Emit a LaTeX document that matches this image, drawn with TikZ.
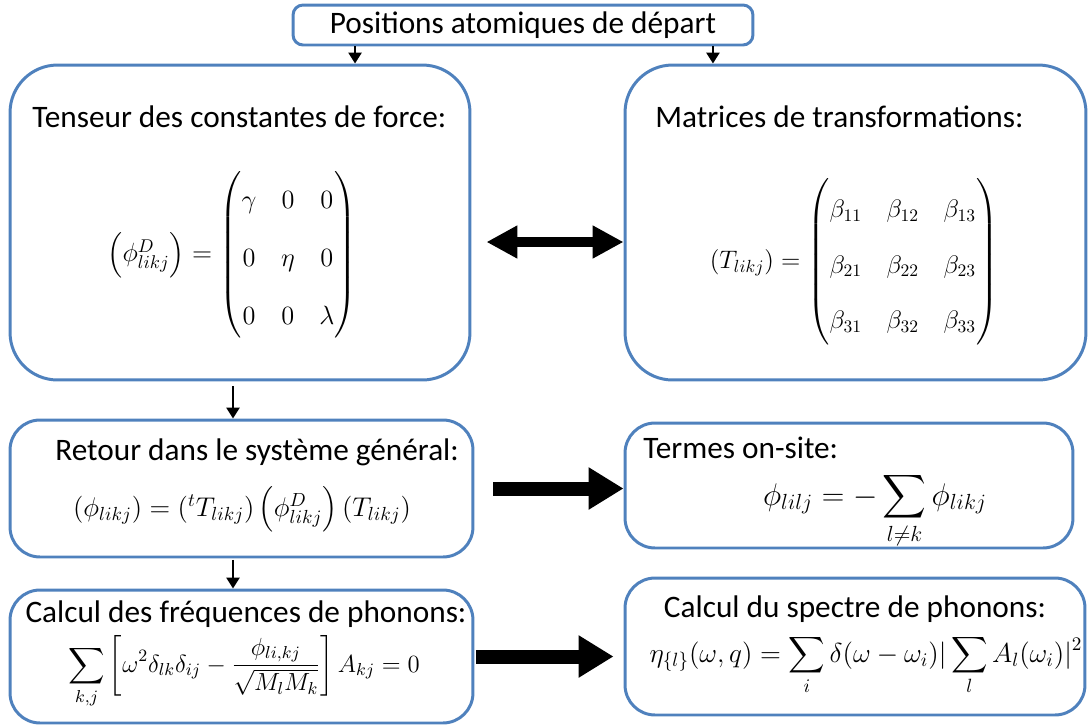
\RequirePackage{fix-cm}
\documentclass[tikz,border=0pt]{standalone}
\usepackage{amsmath}
\usepackage{fontspec}
\setmainfont{Carlito}
\usetikzlibrary{arrows.meta}
\definecolor{boxblue}{RGB}{79,129,189}

\begin{document}
\begin{tikzpicture}[x=0.02cm, y=-0.02cm,
  box/.style={draw=boxblue, line width=1.7pt, rounded corners=0.95cm, inner sep=0pt},
  flatbox/.style={draw=boxblue, line width=1.7pt, rounded corners=0.6cm, inner sep=0pt},
  topbox/.style={draw=boxblue, line width=1.7pt, rounded corners=0.2cm, inner sep=0pt},
  title/.style={font=\fontsize{17.8}{20}\selectfont, inner sep=0pt},
  eq/.style={font=\fontsize{14.4}{17}\selectfont, inner sep=0pt},
  thin arrow/.style={line width=1.5pt, -{Triangle[length=0.22cm,width=0.26cm]}},
  fat arrow/.style={line width=0.28cm, -{Triangle[length=0.7cm,width=0.8cm]}},
  both arrow/.style={line width=0.2cm, {Triangle[length=0.62cm,width=0.62cm]}-{Triangle[length=0.62cm,width=0.62cm]}}]
  \useasboundingbox (0,0) rectangle (1089,725);
  % the boxes
  \node[topbox, title, minimum width=9.2cm, minimum height=0.8cm] (depart) at (523,25) {Positions atomiques de départ};
  \node[box, minimum width=9.2cm, minimum height=6.3cm] (force) at (240,222.5) {};
  \node[box, minimum width=9.22cm, minimum height=6.3cm] (transf) at (855.5,222.5) {};
  \node[flatbox, minimum width=9.26cm, minimum height=2.74cm] (retour) at (241.5,488.5) {};
  \node[flatbox, minimum width=8.96cm, minimum height=2.5cm] (onsite) at (849,485.5) {};
  \node[flatbox, minimum width=9.26cm, minimum height=2.66cm] (freq) at (241.5,656.5) {};
  \node[flatbox, minimum width=9.2cm, minimum height=2.74cm] (spectre) at (855,646.5) {};
  % titles
  \node[title, anchor=base west] (forcetitle) at (32,127) {Tenseur des constantes de force:};
  \node[title, anchor=base west] (transftitle) at (655,127) {Matrices de transformations:};
  \node[title, anchor=base west] (retourtitle) at (55,460) {Retour dans le système général:};
  \node[title, anchor=base west] (onsitetitle) at (643,458) {Termes on-site:};
  \node[title, anchor=base] (freqtitle) at (246,622) {Calcul des fréquences de phonons:};
  \node[title, anchor=base] (spectretitle) at (855,617) {Calcul du spectre de phonons:};
  % formulas
  \node[eq, font=\fontsize{15}{18}\selectfont] (forcemat) at (232,255) {\renewcommand{\arraystretch}{1.82}\setlength{\arraycolsep}{7pt}$\left(\phi^D_{likj}\right)=
    \begin{pmatrix}\gamma & 0 & 0\\ 0 & \eta & 0\\ 0 & 0 & \lambda\end{pmatrix}$};
  \node[eq] (transfmat) at (854,262) {\renewcommand{\arraystretch}{1.85}\setlength{\arraycolsep}{7pt}$\left(T_{likj}\right)=
    \begin{pmatrix}\beta_{11} & \beta_{12} & \beta_{13}\\ \beta_{21} & \beta_{22} & \beta_{23}\\ \beta_{31} & \beta_{32} & \beta_{33}\end{pmatrix}$};
  \node[eq, font=\fontsize{15.4}{18}\selectfont, anchor=base] (retoureq) at (242,516) {$\left(\phi_{likj}\right)=\left({}^tT_{likj}\right)\left(\phi^D_{likj}\right)\left(T_{likj}\right)$};
  \node[eq, font=\fontsize{17.8}{21}\selectfont, anchor=base] (onsiteeq) at (875,505) {$\displaystyle \phi_{lilj}=-\sum_{l\neq k}\phi_{likj}$};
  \node[eq, font=\fontsize{14.1}{17}\selectfont, anchor=base] (freqeq) at (244,672) {$\displaystyle \sum_{k,j}\left[\omega^2\delta_{lk}\delta_{ij}-\frac{\phi_{li,kj}}{\sqrt{M_lM_k}}\right]A_{kj}=0$};
  \node[eq, font=\fontsize{15.6}{19}\selectfont, anchor=base] (spectreeq) at (866,662) {$\displaystyle \eta_{\{l\}}(\omega,q)=\sum_i\delta(\omega-\omega_i)|\sum_l A_l(\omega_i)|^2$};
  % connectors
  \draw[thin arrow] ([xshift=-3.36cm]depart.south) -- ([xshift=-3.36cm]depart.south |- force.north);
  \draw[thin arrow] ([xshift=3.8cm]depart.south) -- ([xshift=3.8cm]depart.south |- transf.north);
  \draw[thin arrow] ([shift={(-0.14cm,-0.1cm)}]force.south) -- ([xshift=-0.14cm]force.south |- retour.north);
  \draw[thin arrow] ([shift={(-0.17cm,-0.03cm)}]retour.south) -- ([xshift=-0.17cm]retour.south |- freq.north);
  \draw[both arrow] ([shift={(0.3cm,-0.39cm)}]force.east) -- ([yshift=-0.39cm]force.east -| transf.west);
  \draw[fat arrow] ([xshift=0.38cm]retour.east) -- (retour.east -| onsite.west);
  \draw[fat arrow] ([xshift=0.04cm]freq.east) -- ([xshift=-0.2cm]freq.east -| spectre.west);
\end{tikzpicture}
\end{document}
